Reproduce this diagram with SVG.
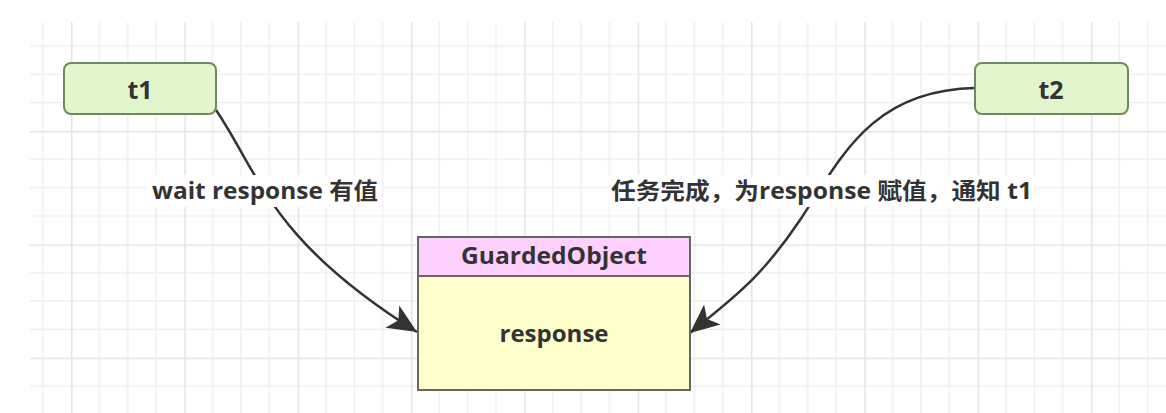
<svg xmlns="http://www.w3.org/2000/svg" width="1166" height="413" viewBox="0 0 1166 413">
  <defs>
    <pattern id="grid" patternUnits="userSpaceOnUse" x="71" y="17.67" width="113.33" height="113.33">
      <path d="M28.33,0V113.33M56.67,0V113.33M85,0V113.33M0,28.33H113.33M0,56.67H113.33M0,85H113.33" stroke="#efefef" stroke-width="1.5" fill="none"/>
      <path d="M0.75,0V113.33M0,0.75H113.33" stroke="#e4e4e4" stroke-width="1.5" fill="none"/>
    </pattern>
    <marker id="arrow" markerUnits="userSpaceOnUse" markerWidth="36" markerHeight="32" refX="31" refY="15" orient="auto">
      <path d="M31,15 L2,2 L9,15 L2,28 Z" fill="#333"/>
    </marker>
    <style>
      .thread { fill: #e3f5cd; stroke: #6e8a5e; stroke-width: 2; }
      .label { font-family: "Open Sans", "Noto Sans", "Noto Sans CJK SC", sans-serif; font-weight: bold; fill: #333; }
      .edge { fill: none; stroke: #333; stroke-width: 2.5; }
      .box { stroke: #666; stroke-width: 2; }
    </style>
  </defs>
  <rect width="1166" height="413" fill="#fff"/>
  <rect x="30" y="22" width="1136" height="391" fill="url(#grid)"/>

  <g id="connectors">
    <path class="edge" d="M216,110 C260,175 270,240 417,332" marker-end="url(#arrow)"/>
    <path class="edge" d="M975,88 C870,90 840,160 800,220 S730,300 690,333" marker-end="url(#arrow)"/>
    <g id="label-wait">
      <rect x="148" y="175" width="234" height="32" fill="#fff"/>
      <text class="label" x="152" y="199" font-size="23" textLength="226" lengthAdjust="spacingAndGlyphs">wait response 有值</text>
    </g>
    <g id="label-notify">
      <rect x="607" y="175" width="429" height="32" fill="#fff"/>
      <text class="label" x="611" y="199" font-size="23" textLength="421" lengthAdjust="spacingAndGlyphs">任务完成，为response 赋值，通知 t1</text>
    </g>
  </g>

  <g id="t1">
    <rect class="thread" x="64" y="63" width="152" height="51" rx="7"/>
    <text class="label" x="140" y="99" font-size="25" text-anchor="middle">t1</text>
  </g>
  <g id="t2">
    <rect class="thread" x="975" y="63" width="153" height="51" rx="7"/>
    <text class="label" x="1051" y="99" font-size="25" text-anchor="middle">t2</text>
  </g>
  <g id="guardedobject">
    <rect class="box" x="418" y="276" width="272" height="114" fill="#ffffcc"/>
    <rect class="box" x="418" y="237" width="272" height="39" fill="#fdd0fd"/>
    <text class="label" x="554" y="264" font-size="24" text-anchor="middle" textLength="186" lengthAdjust="spacingAndGlyphs">GuardedObject</text>
    <text class="label" x="554" y="342" font-size="24" text-anchor="middle" textLength="109" lengthAdjust="spacingAndGlyphs">response</text>
  </g>
</svg>
